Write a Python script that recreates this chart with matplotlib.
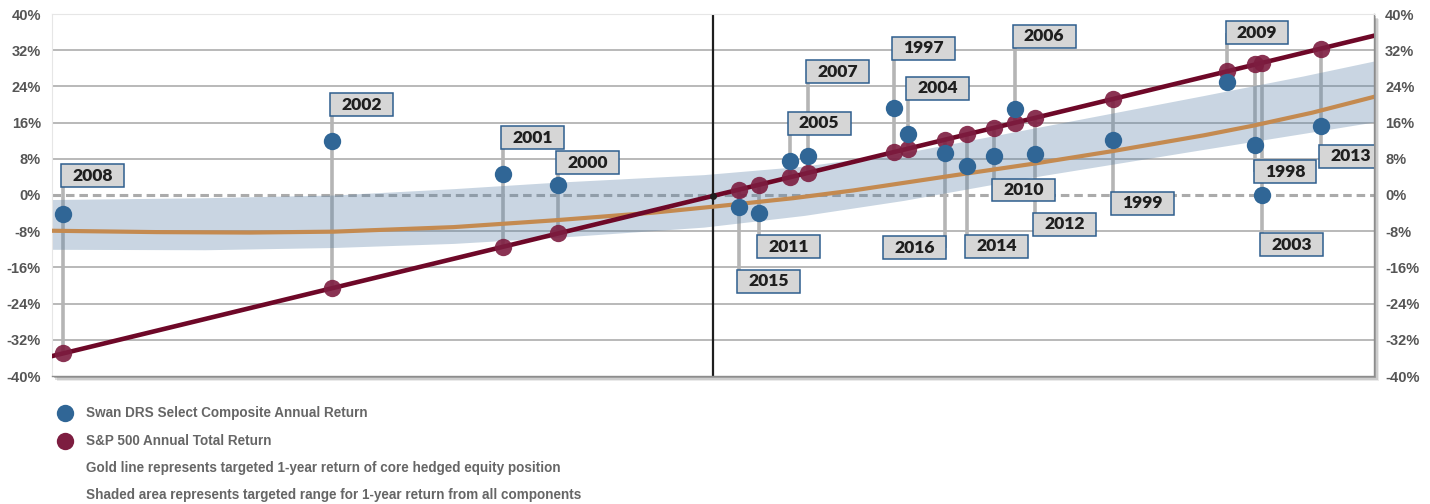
import matplotlib.pyplot as plt
from matplotlib.patches import Rectangle
from matplotlib.lines import Line2D

# --- data (x = S&P 500 annual return, %) ---
years = ['2008', '2002', '2001', '2000', '2015', '2011', '2005', '2007', '1997', '2004',
         '2016', '2014', '2010', '2006', '2012', '1999', '2009', '1998', '2003', '2013']
sp500 = [-35.0, -20.6, -11.45, -8.5, 1.2, 2.25, 3.9, 4.9, 9.5, 10.25,
         12.2, 13.4, 14.85, 15.95, 17.05, 21.2, 27.35, 28.85, 29.2, 32.35]
swan = [-4.25, 12.0, 4.7, 2.1, -2.6, -3.9, 7.5, 8.7, 19.25, 13.5,
        9.2, 6.3, 8.6, 19.0, 9.0, 12.1, 24.9, 11.0, 0.0, 15.2]

# gold line: targeted 1-year return of core hedged equity position
gold_x = [-35.6, -30, -25, -20.5, -14.1, -8.7, -3.4, 0, 4.1, 7.3, 12.8, 17.1, 21.2, 26.1, 28.7, 31.9, 35.3]
gold_y = [-7.9, -8.2, -8.3, -8.1, -7.1, -5.6, -3.9, -2.5, -0.7, 1.0, 4.4, 7.0, 9.7, 13.2, 15.3, 18.2, 21.8]

# shaded targeted range
band_x = [-35.6, -27.4, -20.5, -14.1, -8.7, -0.7, 4.7, 10.0, 17.0, 26.1, 31.4, 35.3]
band_hi = [-1.0, -0.6, 0.0, 1.4, 2.8, 4.5, 6.4, 9.3, 14.8, 22.0, 26.3, 29.7]
band_lo = [-12.0, -12.1, -11.6, -10.7, -9.4, -7.1, -4.5, -1.2, 4.0, 10.1, 13.6, 16.2]

yticks = list(range(-40, 41, 8))

# label box centre (y, %) and which side of the leader the box sits on
label_pos = {
    '2008': (4.3, 'l'), '2002': (20.0, 'l'), '2001': (12.7, 'l'), '2000': (7.1, 'l'),
    '2015': (-19.1, 'l'), '2011': (-11.4, 'l'), '2005': (15.9, 'l'), '2007': (27.2, 'l'),
    '1997': (32.4, 'l'), '2004': (23.6, 'l'), '2016': (-11.7, 'r'), '2014': (-11.3, 'l'),
    '2010': (1.1, 'l'), '2006': (35.1, 'l'), '2012': (-6.5, 'l'), '1999': (-1.8, 'l'),
    '2009': (35.9, 'l'), '1998': (5.1, 'l'), '2003': (-11.0, 'l'), '2013': (8.6, 'l'),
}

BLUE = '#306696'
RED = '#7d1d40'
RED_LINE = '#6e0828'
GOLD = '#c48a50'
GREY_TXT = '#555555'

fig = plt.figure(figsize=(14.3, 5.04), dpi=100)
ax_rect = [52 / 1430, 1 - 376 / 504, 1322 / 1430, 362 / 504]

# soft drop shadow behind the plot area
for i, a in enumerate([0.10, 0.16, 0.25]):
    off = (5 - i * 1.5)
    fig.patches.append(Rectangle((ax_rect[0] + off / 1430, ax_rect[1] - off / 504),
                                 ax_rect[2], ax_rect[3], transform=fig.transFigure,
                                 color='#333333', alpha=a, lw=0, zorder=-2))

ax = fig.add_axes(ax_rect)
ax.set_facecolor('white')
xmin, xmax = -35.6, 35.2
ax.set_xlim(xmin, xmax)
ax.set_ylim(-40, 40)

for s in ['left', 'top']:
    ax.spines[s].set_color('#e6e6e6')
    ax.spines[s].set_linewidth(0.8)
for s in ['right', 'bottom']:
    ax.spines[s].set_color('#8c8c8c')
    ax.spines[s].set_linewidth(1.0)

# grid lines
for v in yticks:
    if v in (-40, 40):
        continue
    if v == 0:
        ax.axhline(0, color='#ababab', lw=2.2, dashes=(2.8, 1.6), zorder=1)
    else:
        ax.axhline(v, color='#a6a6a6', lw=1.1, zorder=1)

# leader lines from label to the farthest dot
bw, bh = 3.37, 5.07
for yr, x, s, w in zip(years, sp500, sp500, swan):
    ly, side = label_pos[yr]
    far = min(s, w) if ly > max(s, w) else max(s, w)
    ax.plot([x, x], [ly, far], color='#b5b5b5', lw=2.6, zorder=1.5, solid_capstyle='butt')

# shaded band
ax.fill_between(band_x, band_lo, band_hi, color='#5b82a7', alpha=0.33, lw=0, zorder=2)

# vertical zero axis
ax.axvline(-0.2, color='#1e1e1e', lw=1.6, zorder=2.5)

# gold line and S&P line
ax.plot(gold_x, gold_y, color=GOLD, lw=3.0, zorder=3, solid_capstyle='butt')
ax.plot([xmin, xmax], [xmin, xmax], color=RED_LINE, lw=3.3, zorder=3.2)
ax.plot([-0.2], [-0.2], 'o', color='#1e1e1e', ms=4, zorder=3.3)

# dots
ax.plot(sp500, sp500, 'o', color=RED, alpha=0.9, ms=12.5, mew=0, ls='none', zorder=4)
ax.plot(sp500, swan, 'o', color=BLUE, ms=12.5, mew=0, ls='none', zorder=5)

# year labels
for yr, x in zip(years, sp500):
    ly, side = label_pos[yr]
    left = x - 0.1 if side == 'l' else x + 0.07 - bw
    box = Rectangle((left, ly - bh / 2), bw, bh, facecolor='#d6d6d6',
                    edgecolor='#2e5e8e', lw=1.1, zorder=6)
    ax.add_patch(box)
    ax.text(left + bw / 2, ly, yr, ha='center', va='center', fontsize=12.6,
            fontweight='heavy', family='Lato', color='#1f1f1f', zorder=7, clip_on=True)

ax.set_xticks([])
ax.set_yticks(yticks)
ax.set_yticklabels([f'{v}%' for v in yticks])
ax.tick_params(axis='y', length=0, labelright=True, labelleft=True, pad=8,
               labelsize=10.5, labelcolor=GREY_TXT)
for lab in ax.get_yticklabels():
    lab.set_fontweight('bold')
    lab.set_family('Liberation Sans')

# legend below the chart
leg_x = 65 / 1430
txt_x = 86 / 1430
rows = [(413, BLUE, 'Swan DRS Select Composite Annual Return'),
        (441, RED, 'S&P 500 Annual Total Return'),
        (468, None, 'Gold line represents targeted 1-year return of core hedged equity position'),
        (495, None, 'Shaded area represents targeted range for 1-year return from all components')]
for py, col, label in rows:
    yy = 1 - py / 504
    if col:
        fig.add_artist(Line2D([leg_x], [yy], marker='o', ms=12.5, color=col, mew=0,
                              transform=fig.transFigure))
    fig.text(txt_x, yy, label, ha='left', va='center', fontsize=9.75,
             fontweight='bold', color='#666666', family='Liberation Sans')

plt.savefig('out.png', dpi=100)
